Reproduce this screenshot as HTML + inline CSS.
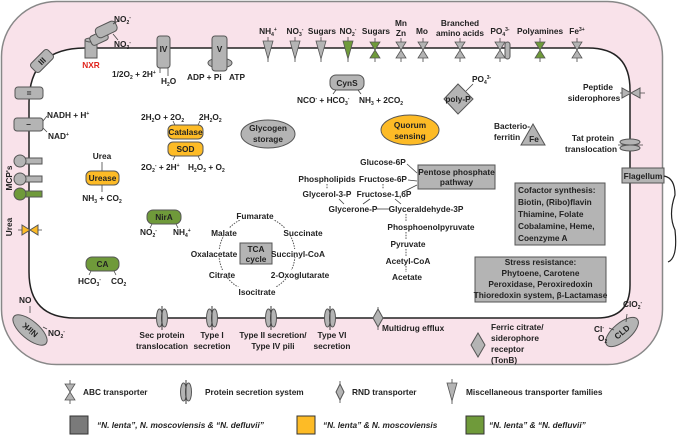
<!DOCTYPE html>
<html><head><meta charset="utf-8"><style>
html,body{margin:0;padding:0;background:#fff;}
svg{display:block;font-family:"Liberation Sans",sans-serif;font-weight:bold;}
text{font-size:8.3px;fill:#222;}
.c{text-anchor:middle;}
.g{fill:#b4b4b4;stroke:#555;stroke-width:1;}
.o{fill:#fdbb26;stroke:#555;stroke-width:1;}
.gr{fill:#6f9a3a;stroke:#555;stroke-width:1;}
.ln{stroke:#444;stroke-width:0.8;fill:none;}
.dt{stroke:#555;stroke-width:1;fill:none;stroke-dasharray:1.5 1.2;}
</style></head><body>
<svg width="685" height="444" viewBox="0 0 685 444" xmlns="http://www.w3.org/2000/svg">
<defs>
<g id="abc"><line x1="0" y1="-12" x2="0" y2="12" stroke="#444" stroke-width="0.8"/><polygon points="-5,-8 5,-8 0,0" /><polygon points="-5,8 5,8 0,0"/></g>
<g id="misc"><line x1="0" y1="-13" x2="0" y2="12" stroke="#444" stroke-width="0.8"/><polygon points="-5,-9 5,-9 0,9"/></g>
<g id="sec"><line x1="0" y1="-12" x2="0" y2="12" stroke="#444" stroke-width="0.8"/><ellipse cx="-2.5" cy="0" rx="3" ry="9" fill="#b4b4b4" stroke="#555"/><ellipse cx="2.5" cy="0" rx="3" ry="9" fill="#b4b4b4" stroke="#555"/><line x1="0" y1="-12" x2="0" y2="12" stroke="#333" stroke-width="0.8"/></g>
</defs>
<rect x="1.5" y="1.5" width="661" height="363" rx="55" fill="#f9e2ea" stroke="#888" stroke-width="1.5"/>
<path d="M85,48 H588 Q630,48 630,90 V285 Q630,318 597,318 H75 Q29,318 29,272 V103 Q29,48 85,48 Z" fill="#fff" stroke="#222" stroke-width="1.5"/>

<!-- NXR -->
<rect x="85" y="40" width="12" height="18" class="g"/><ellipse cx="91" cy="40" rx="6" ry="2" class="g"/>
<rect x="90" y="33" width="18" height="10" rx="3" class="g" transform="rotate(-25 99 38)"/>
<rect x="95" y="24" width="22" height="11" rx="4" class="g" transform="rotate(-25 106 29)"/>
<text x="91" y="68" class="c" style="fill:#e0241c">NXR</text>
<line x1="113" y1="24" x2="118" y2="21" class="ln"/><line x1="113" y1="34" x2="118" y2="40" class="ln"/>
<text x="114" y="22">NO<tspan dy="2" font-size="5">2</tspan><tspan dy="-5" font-size="5">-</tspan></text>
<text x="114" y="47">NO<tspan dy="2" font-size="5">3</tspan><tspan dy="-5" font-size="5">-</tspan></text>
<!-- IV -->
<rect x="157" y="36" width="13" height="32" rx="3" class="g"/><text x="163.5" y="52" class="c">IV</text>
<line x1="160" y1="68" x2="160" y2="73" class="ln"/><line x1="168" y1="68" x2="168" y2="76" class="ln"/>
<text x="112" y="77">1/2O<tspan dy="2" font-size="5">2</tspan><tspan dy="-2"> + 2H</tspan><tspan dy="-3" font-size="5">+</tspan></text>
<text x="161" y="84">H<tspan dy="2" font-size="5">2</tspan><tspan dy="-2">O</tspan></text>
<!-- V -->
<ellipse cx="220" cy="63" rx="12" ry="5" class="g"/>
<rect x="212" y="36" width="15" height="35" rx="3" class="g"/><text x="219.5" y="52" class="c">V</text>
<text x="187" y="80">ADP + Pi</text><text x="229" y="80">ATP</text>
<!-- III -->
<rect x="30" y="55" width="24" height="12" rx="3" class="g" transform="rotate(-45 42 61)"/>
<text x="42" y="64" class="c" transform="rotate(-45 42 61)">III</text>
<rect x="15" y="87" width="28" height="12" rx="3" class="g"/><text x="29" y="96" class="c">=</text>
<rect x="14" y="118" width="29" height="13" rx="3" class="g"/><text x="28.5" y="127" class="c">–</text>
<line x1="43" y1="121" x2="47" y2="116" class="ln"/><line x1="43" y1="128" x2="47" y2="132" class="ln"/>
<text x="47" y="118">NADH + H<tspan dy="-3" font-size="5">+</tspan></text>
<text x="48" y="139">NAD<tspan dy="-3" font-size="5">+</tspan></text>
<rect x="22" y="158" width="20" height="6" class="g"/><circle cx="20" cy="161" r="6" class="g"/>
<rect x="22" y="176" width="20" height="6" class="g"/><circle cx="20" cy="179" r="6" class="g"/>
<rect x="22" y="191" width="20" height="6" class="gr"/><circle cx="20" cy="194" r="6" class="gr"/>
<text x="12" y="178" class="c" transform="rotate(-90 12 178)">MCP's</text>
<text x="12" y="227" class="c" transform="rotate(-90 12 227)">Urea</text>
<line x1="18" y1="230" x2="42" y2="230" class="ln"/>
<polygon points="22,225 22,235 30,230" class="o"/><polygon points="38,225 38,235 30,230" class="o"/>

<g fill="#b4b4b4" stroke="#555" stroke-width="0.8">
<use href="#misc" x="268" y="50"/><use href="#misc" x="295" y="50"/><use href="#misc" x="321" y="50"/>
<use href="#abc" x="401" y="50"/><use href="#abc" x="423" y="50"/><use href="#abc" x="460" y="50"/><use href="#abc" x="500" y="50"/><use href="#abc" x="577" y="50"/>
</g>
<g fill="#6f9a3a" stroke="#555" stroke-width="0.8">
<use href="#misc" x="348" y="50"/><use href="#abc" x="375" y="50"/><use href="#abc" x="540" y="50"/>
</g>
<rect x="505" y="42" width="5" height="17" rx="2.5" class="g"/>
<text x="268" y="34" class="c">NH<tspan dy="2" font-size="5">4</tspan><tspan dy="-5" font-size="5">+</tspan></text>
<text x="295" y="34" class="c">NO<tspan dy="2" font-size="5">3</tspan><tspan dy="-5" font-size="5">-</tspan></text>
<text x="322" y="34" class="c">Sugars</text>
<text x="348" y="34" class="c">NO<tspan dy="2" font-size="5">2</tspan><tspan dy="-5" font-size="5">-</tspan></text>
<text x="376" y="34" class="c">Sugars</text>
<text x="401" y="26" class="c">Mn</text><text x="401" y="36" class="c">Zn</text>
<text x="422" y="34" class="c">Mo</text>
<text x="460" y="26" class="c">Branched</text><text x="460" y="36" class="c">amino acids</text>
<text x="500" y="34" class="c">PO<tspan dy="2" font-size="5">4</tspan><tspan dy="-5" font-size="5">3-</tspan></text>
<text x="540" y="34" class="c">Polyamines</text>
<text x="577" y="34" class="c">Fe<tspan dy="-3" font-size="5">3+</tspan></text>

<rect x="330" y="75" width="34" height="15" rx="6" class="g"/><text x="347" y="86" class="c">CynS</text>
<line x1="336" y1="90" x2="333" y2="94" class="ln"/><line x1="358" y1="90" x2="361" y2="94" class="ln"/>
<text x="297" y="103">NCO<tspan dy="-3" font-size="5">-</tspan><tspan dy="3"> + HCO</tspan><tspan dy="2" font-size="5">3</tspan><tspan dy="-5" font-size="5">-</tspan></text>
<text x="359" y="103">NH<tspan dy="2" font-size="5">3</tspan><tspan dy="-2"> + 2CO</tspan><tspan dy="2" font-size="5">2</tspan></text>
<polygon points="444,99 458,84 473,99 458,114" class="g"/><text x="458" y="102" class="c">poly-P</text>
<line x1="466" y1="91" x2="473" y2="84" class="ln"/>
<text x="472" y="82">PO<tspan dy="2" font-size="5">4</tspan><tspan dy="-5" font-size="5">3-</tspan></text>
<ellipse cx="410" cy="130" rx="29" ry="15" class="o"/><text x="410" y="128" class="c">Quorum</text><text x="410" y="139" class="c">sensing</text>
<ellipse cx="268" cy="134" rx="27" ry="14" class="g"/><text x="268" y="131" class="c">Glycogen</text><text x="268" y="142" class="c">storage</text>
<rect x="168" y="125" width="35" height="14" rx="5" class="o"/><text x="185.5" y="135" class="c">Catalase</text>
<rect x="168" y="142" width="35" height="14" rx="5" class="o"/><text x="185.5" y="152" class="c">SOD</text>
<text x="141" y="120">2H<tspan dy="2" font-size="5">2</tspan><tspan dy="-2">O + 2O</tspan><tspan dy="2" font-size="5">2</tspan></text>
<text x="199" y="120">2H<tspan dy="2" font-size="5">2</tspan><tspan dy="-2">O</tspan><tspan dy="2" font-size="5">2</tspan></text>
<text x="141" y="170">2O<tspan dy="2" font-size="5">2</tspan><tspan dy="-5" font-size="5">-</tspan><tspan dy="3"> + 2H</tspan><tspan dy="-3" font-size="5">+</tspan></text>
<text x="188" y="170">H<tspan dy="2" font-size="5">2</tspan><tspan dy="-2">O</tspan><tspan dy="2" font-size="5">2</tspan><tspan dy="-2"> + O</tspan><tspan dy="2" font-size="5">2</tspan></text>
<line x1="173" y1="121" x2="175" y2="125" class="ln"/><line x1="200" y1="121" x2="198" y2="125" class="ln"/>
<line x1="173" y1="160" x2="175" y2="156" class="ln"/><line x1="200" y1="160" x2="198" y2="156" class="ln"/>
<text x="102" y="159" class="c">Urea</text><line x1="102" y1="162" x2="102" y2="171" class="ln"/>
<rect x="86" y="171" width="33" height="14" rx="5" class="o"/><text x="102.5" y="181" class="c">Urease</text>
<line x1="102" y1="185" x2="102" y2="192" class="ln"/>
<text x="102" y="201" class="c">NH<tspan dy="2" font-size="5">3</tspan><tspan dy="-2"> + CO</tspan><tspan dy="2" font-size="5">2</tspan></text>
<rect x="147" y="210" width="34" height="14" rx="6" class="gr"/><text x="164" y="220" class="c">NirA</text>
<line x1="152" y1="224" x2="150" y2="228" class="ln"/><line x1="176" y1="224" x2="178" y2="228" class="ln"/>
<text x="140" y="235">NO<tspan dy="2" font-size="5">2</tspan><tspan dy="-5" font-size="5">-</tspan></text>
<text x="173" y="235">NH<tspan dy="2" font-size="5">4</tspan><tspan dy="-5" font-size="5">+</tspan></text>
<rect x="86" y="257" width="33" height="14" rx="6" class="gr"/><text x="102.5" y="267" class="c">CA</text>
<line x1="91" y1="271" x2="89" y2="275" class="ln"/><line x1="114" y1="271" x2="116" y2="275" class="ln"/>
<text x="78" y="284">HCO<tspan dy="2" font-size="5">3</tspan><tspan dy="-5" font-size="5">-</tspan></text>
<text x="111" y="284">CO<tspan dy="2" font-size="5">2</tspan></text>
<circle cx="257" cy="254" r="38" class="dt"/>
<g fill="#fff"><rect x="232" y="212" width="46" height="8"/><rect x="207" y="228" width="35" height="8"/><rect x="282" y="228" width="42" height="8"/><rect x="190" y="249" width="48" height="8"/><rect x="272" y="249" width="52" height="8"/><rect x="207" y="270" width="30" height="8"/><rect x="271" y="270" width="58" height="8"/><rect x="237" y="287" width="40" height="8"/></g>
<rect x="240" y="243" width="32" height="21" class="g"/><text x="256" y="252" class="c">TCA</text><text x="256" y="262" class="c">cycle</text>
<text x="255" y="219" class="c">Fumarate</text>
<text x="224" y="236" class="c">Malate</text>
<text x="303" y="236" class="c">Succinate</text>
<text x="214" y="257" class="c">Oxalacetate</text>
<text x="298" y="257" class="c">Succinyl-CoA</text>
<text x="222" y="278" class="c">Citrate</text>
<text x="300" y="278" class="c">2-Oxoglutarate</text>
<text x="257" y="295" class="c">Isocitrate</text>
<text x="383" y="165" class="c">Glucose-6P</text>
<text x="327" y="182" class="c">Phospholipids</text>
<text x="383" y="182" class="c">Fructose-6P</text>
<text x="327" y="197" class="c">Glycerol-3-P</text>
<text x="384" y="197" class="c">Fructose-1,6P</text>
<text x="353" y="212" class="c">Glycerone-P</text>
<text x="426" y="212" class="c">Glyceraldehyde-3P</text>
<text x="431" y="230" class="c">Phosphoenolpyruvate</text>
<text x="408" y="247" class="c">Pyruvate</text>
<text x="408" y="264" class="c">Acetyl-CoA</text>
<text x="407" y="280" class="c">Acetate</text>
<g class="dt" stroke-dasharray="1 1"><line x1="327" y1="184" x2="327" y2="189"/><line x1="383" y1="184" x2="383" y2="189"/><line x1="406" y1="214" x2="406" y2="222"/><line x1="406" y1="232" x2="406" y2="239"/><line x1="406" y1="249" x2="406" y2="256"/><line x1="406" y1="266" x2="406" y2="272"/></g>
<line x1="339" y1="199" x2="344" y2="204" class="ln"/><line x1="370" y1="199" x2="363" y2="204" class="ln"/>
<line x1="377" y1="209" x2="389" y2="209" class="ln"/><line x1="395" y1="199" x2="401" y2="204" class="ln"/>
<line x1="407" y1="164" x2="417" y2="173" class="ln"/><line x1="408" y1="180" x2="417" y2="181" class="ln"/><line x1="403" y1="192" x2="417" y2="185" class="ln"/>
<rect x="418" y="165" width="77" height="24" class="g"/><text x="456.5" y="175" class="c">Pentose phosphate</text><text x="456.5" y="185" class="c">pathway</text>
<rect x="515" y="183" width="90" height="62" class="g"/>
<text x="518" y="193">Cofactor synthesis:</text><text x="518" y="205">Biotin, (Ribo)flavin</text><text x="518" y="217">Thiamine, Folate</text><text x="518" y="229">Cobalamine, Heme,</text><text x="518" y="241">Coenzyme A</text>
<rect x="475" y="257" width="131" height="45" class="g"/>
<text x="540.5" y="265" class="c">Stress resistance:</text><text x="540.5" y="276" class="c">Phytoene, Carotene</text><text x="540.5" y="287" class="c">Peroxidase, Peroxiredoxin</text><text x="540.5" y="298" class="c">Thioredoxin system, β-Lactamase</text>
<text x="598" y="90" class="c">Peptide</text><text x="594" y="101" class="c">siderophores</text>
<line x1="620" y1="93" x2="645" y2="93" class="ln"/><polygon points="622,88 622,98 631,93" class="g"/><polygon points="640,88 640,98 631,93" class="g"/>
<text x="512" y="129" class="c">Bacterio-</text><text x="507" y="140" class="c">ferritin</text>
<polygon points="533,124 545,145 521,145" class="g"/><text x="534" y="142" class="c">Fe</text>
<text x="593" y="141" class="c">Tat protein</text><text x="591" y="152" class="c">translocation</text>
<line x1="618" y1="145" x2="643" y2="145" class="ln"/><ellipse cx="630" cy="142" rx="10" ry="3" class="g"/><ellipse cx="630" cy="148" rx="10" ry="3" class="g"/>
<rect x="622" y="168" width="42" height="15" class="g"/><text x="643" y="179" class="c">Flagellum</text>
<path d="M664,176 Q675,178 675,195 Q668,215 675,230 Q678,258 668,262" stroke="#222" stroke-width="1.2" fill="none"/>
<use href="#sec" x="162" y="318"/><use href="#sec" x="212" y="318"/><use href="#sec" x="271" y="318"/><use href="#sec" x="330" y="318"/>
<text x="162" y="338" class="c">Sec protein</text><text x="162" y="349" class="c">translocation</text>
<text x="212" y="338" class="c">Type I</text><text x="212" y="349" class="c">secretion</text>
<text x="273" y="338" class="c">Type II secretion/</text><text x="273" y="349" class="c">Type IV pili</text>
<text x="332" y="338" class="c">Type VI</text><text x="332" y="349" class="c">secretion</text>
<line x1="378" y1="307" x2="378" y2="330" class="ln"/><polygon points="378,309 383,318 378,327 373,318" class="g"/>
<text x="382" y="331">Multidrug efflux</text>
<polygon points="478,333 485,345 478,357 471,345" class="g"/>
<text x="491" y="330">Ferric citrate/</text><text x="491" y="341">siderophore</text><text x="491" y="352">receptor</text><text x="491" y="363">(TonB)</text>
<ellipse cx="622" cy="332" rx="20" ry="9" class="g" transform="rotate(-40 622 332)"/><text x="622" y="335" class="c" transform="rotate(-40 622 332)">CLD</text>
<line x1="627" y1="314" x2="626" y2="322" class="ln"/><line x1="609" y1="328" x2="614" y2="330" class="ln"/>
<text x="623" y="307">ClO<tspan dy="2" font-size="5">2</tspan><tspan dy="-5" font-size="5">-</tspan></text>
<text x="594" y="332">Cl<tspan dy="-3" font-size="5">-</tspan></text><text x="598" y="341">O<tspan dy="2" font-size="5">2</tspan></text>
<ellipse cx="30" cy="330" rx="21" ry="9" class="g" transform="rotate(40 30 330)"/><text x="30" y="333" class="c" transform="rotate(220 30 330)">NirK</text>
<line x1="30" y1="306" x2="30" y2="313" class="ln"/><line x1="43" y1="327" x2="47" y2="329" class="ln"/>
<text x="19" y="303">NO</text>
<text x="48" y="336">NO<tspan dy="2" font-size="5">2</tspan><tspan dy="-5" font-size="5">-</tspan></text>
<g fill="#b4b4b4" stroke="#555" stroke-width="0.8"><use href="#abc" x="70" y="392"/><use href="#misc" x="452" y="392"/></g>
<use href="#sec" x="186" y="392"/>
<line x1="340" y1="381" x2="340" y2="403" class="ln"/><polygon points="340,384 344,392 340,400 336,392" class="g"/>
<text x="83" y="395">ABC transporter</text>
<text x="205" y="395">Protein secretion system</text>
<text x="352" y="395">RND transporter</text>
<text x="466" y="395">Miscellaneous transporter families</text>
<rect x="70" y="416" width="18" height="18" fill="#7a7a7a" stroke="#333"/>
<rect x="297" y="416" width="18" height="18" fill="#fdbb26" stroke="#333"/>
<rect x="466" y="416" width="18" height="18" fill="#6f9a3a" stroke="#333"/>
<text x="97" y="428" font-style="italic">“N. lenta”, N. moscoviensis &amp; “N. defluvii”</text>
<text x="323" y="428" font-style="italic">“N. lenta” &amp; N. moscoviensis</text>
<text x="489" y="428" font-style="italic">“N. lenta” &amp; “N. defluvii”</text>
</svg>
</body></html>
